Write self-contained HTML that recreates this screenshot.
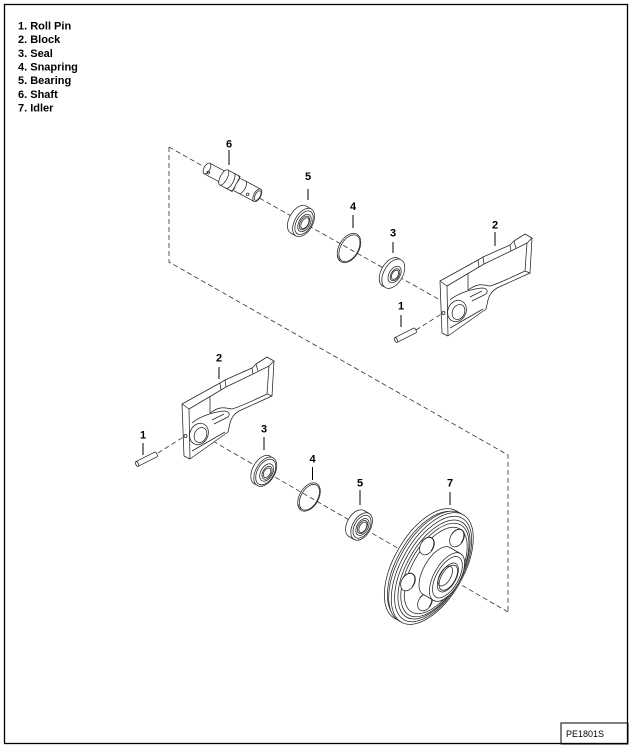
<!DOCTYPE html>
<html><head><meta charset="utf-8">
<style>
html,body{margin:0;padding:0;background:#fff;}
body{width:632px;height:748px;overflow:hidden;}
svg{display:block;}
text{font-family:"Liberation Sans",Arial,sans-serif;}
.l{fill:#fff;stroke:#222;stroke-width:.75;stroke-linejoin:round;}
.n{fill:none;stroke:#222;stroke-width:.75;stroke-linejoin:round;}
.d{fill:none;stroke:#333;stroke-width:.8;stroke-dasharray:5 3;}
.k{fill:none;stroke:#000;stroke-width:1;}
</style></head><body>
<svg width="632" height="748" viewBox="0 0 632 748" xmlns="http://www.w3.org/2000/svg">
<rect x="4.5" y="4.5" width="623" height="739" fill="#fff" stroke="#000" stroke-width="1.3"/>
<rect x="561" y="723" width="67" height="21" fill="none" stroke="#000" stroke-width="1"/>
<text x="566" y="737" font-size="9">PE1801S</text>

<g font-weight="bold" font-size="11" fill="#000">
<text x="18" y="29.3">1. Roll Pin</text>
<text x="18" y="43">2. Block</text>
<text x="18" y="56.8">3. Seal</text>
<text x="18" y="70.5">4. Snapring</text>
<text x="18" y="84.2">5. Bearing</text>
<text x="18" y="98">6. Shaft</text>
<text x="18" y="111.7">7. Idler</text>
</g>

<!-- dashed lines -->
<path class="d" d="M169,147 L169,262 L508,455 L508,612"/>
<path class="d" d="M169,147 L440,300"/>
<path class="d" d="M508,612 L199,433"/>
<path class="d" d="M416,330 L443,313"/>
<path class="d" d="M158,453 L185,436"/>

<defs>
<g id="blk">
<path class="l" d="M440,281 L478,260 L483,257 L510,245 L514,241 L525,234 L532,238 L530,273 L497,288 Q490,292 488,300 L486,309 L448,336 L442,333 Z"/>
<path class="n" d="M440,281 L447,286 L448,336"/>
<path class="n" d="M447,286 L479,267 L484,264 L511,251 L527,243 L532,238"/>
<path class="n" d="M527,243 L525,271 L530,273"/>
<path class="n" d="M478,260 L479,267 M483,257 L484,264 M510,245 L511,251 M514,241 L516,248"/>
<path class="n" d="M468,274 L468,290 C474,286 478,284 484,285 L490,286 C500,283 510,278 525,271"/>
<path class="n" d="M450,300 C458,293 472,289 482,288 C488,288 489,293 484,295 L472,301"/>
<path class="n" d="M470,297 L482,291"/>
<path class="n" d="M450,328 L483,309"/>
<ellipse class="n" cx="457" cy="311" rx="9" ry="11" transform="rotate(25 457 311)"/>
<ellipse class="n" cx="458.5" cy="312" rx="6" ry="7.8" transform="rotate(25 458.5 312)"/>
<circle class="n" cx="443.5" cy="313" r="1.5"/>
</g>
<g id="pin">
<path class="l" d="M0,-2.6 L21,-2.6 A1.3,2.6 0 0 1 21,2.6 L0,2.6"/>
<ellipse class="l" cx="0" cy="0" rx="1.3" ry="2.6"/>
</g>
</defs>

<!-- blocks -->
<use href="#blk"/>
<use href="#blk" transform="translate(-258,123)"/>

<!-- pins -->
<use href="#pin" transform="translate(396,340) rotate(-27)"/>
<use href="#pin" transform="translate(137,464) rotate(-27)"/>

<!-- shaft -->
<g transform="translate(207,168.5) rotate(28)">
<path class="l" d="M0,-6 L20,-6 L20,6 L0,6"/>
<ellipse class="l" cx="0" cy="0" rx="3" ry="6"/>
<circle class="n" cx="3" cy="3" r="1.3"/>
<path class="l" d="M19,-8.5 L33,-8.5 L33,8.5 L19,8.5"/>
<ellipse class="l" cx="19" cy="0" rx="3.5" ry="8.5"/>
<path class="n" d="M26,-8.5 A3.5,8.5 0 0 1 26,8.5"/>
<path class="n" d="M31,-8.3 A3.5,8.3 0 0 1 31,8.3" stroke-width="2.2"/>
<path class="l" d="M34,-7 L57,-7 L57,7 L34,7"/>
<path class="n" d="M40,-7 A3,7 0 0 1 40,7"/>
<ellipse class="l" cx="57" cy="0" rx="3.5" ry="7"/>
<ellipse class="n" cx="57.5" cy="0" rx="2.5" ry="5.3"/>
<circle class="n" cx="48" cy="3.8" r="1.3"/>
</g>

<!-- top bearing 5 -->
<g transform="translate(301,221) rotate(30)">
<ellipse class="l" cx="-3" cy="0" rx="9" ry="15.5"/>
<path fill="#fff" d="M-3,-15.5 L3,-15.5 L3,15.5 L-3,15.5Z"/>
<path class="n" d="M-3,-15.5 L3,-15.5 M-3,15.5 L3,15.5"/>
<ellipse class="l" cx="3" cy="0" rx="9" ry="15.5"/>
<ellipse class="n" cx="3.5" cy="0" rx="7.5" ry="13"/>
<ellipse class="n" cx="4" cy="0" rx="5.5" ry="9.5" stroke-width="1.3"/>
<ellipse class="n" cx="4" cy="0" rx="4.2" ry="7.5"/>
<ellipse class="n" cx="4.5" cy="0" rx="3.3" ry="6"/>
</g>

<!-- top snapring 4 -->
<g transform="translate(349,248) rotate(30)">
<ellipse class="n" cx="0" cy="0" rx="10" ry="16"/>
<ellipse class="n" cx="0.5" cy="0" rx="8.8" ry="14.6"/>
<path class="n" d="M-6,12 L-4,14.5 M-3,13.5 L-1.5,15.5"/>
</g>

<!-- top seal 3 -->
<g transform="translate(392,273) rotate(30)">
<ellipse class="l" cx="-1.5" cy="0" rx="9.5" ry="16"/>
<ellipse class="l" cx="1.5" cy="0" rx="9.5" ry="16"/>
<ellipse class="n" cx="3" cy="0" rx="5.5" ry="9" stroke-width="1.2"/>
<ellipse class="n" cx="3.5" cy="0" rx="4" ry="6.5"/>
<ellipse class="n" cx="3.5" cy="0" rx="3" ry="5"/>
</g>

<!-- bottom seal 3 -->
<g transform="translate(264,471) rotate(30)">
<ellipse class="l" cx="-2" cy="0" rx="9.5" ry="16" stroke-width="1.4"/>
<ellipse class="l" cx="1.5" cy="0" rx="9.5" ry="16" stroke-width="1.4"/>
<ellipse class="n" cx="2" cy="0" rx="8.3" ry="14" stroke-width="1.6"/>
<ellipse class="n" cx="3" cy="0" rx="5.8" ry="9.5" stroke-width="1.6"/>
<ellipse class="n" cx="3.5" cy="0" rx="4.3" ry="7"/>
<ellipse class="n" cx="3.5" cy="0" rx="3.2" ry="5.2"/>
</g>

<!-- bottom snapring 4 -->
<g transform="translate(309,497) rotate(30)">
<ellipse class="n" cx="0" cy="0" rx="9.5" ry="15.5"/>
<ellipse class="n" cx="0.5" cy="0" rx="8.3" ry="14.1"/>
<path class="n" d="M-6,11.5 L-4,14 M-3,13 L-1.5,15"/>
</g>

<!-- bottom bearing 5 -->
<g transform="translate(359,525) rotate(30)">
<ellipse class="l" cx="-3" cy="0" rx="9" ry="15"/>
<path fill="#fff" d="M-3,-15 L3,-15 L3,15 L-3,15Z"/>
<path class="n" d="M-3,-15 L3,-15 M-3,15 L3,15"/>
<ellipse class="l" cx="3" cy="0" rx="9" ry="15"/>
<ellipse class="n" cx="3.5" cy="0" rx="7.5" ry="12.5"/>
<ellipse class="n" cx="4" cy="0" rx="5.5" ry="9.2" stroke-width="1.3"/>
<ellipse class="n" cx="4" cy="0" rx="4.2" ry="7.2"/>
<ellipse class="n" cx="4.5" cy="0" rx="3.3" ry="5.8"/>
</g>

<!-- idler 7 -->
<g transform="translate(447,577) rotate(30)">
<ellipse class="l" cx="-25" cy="0" rx="31" ry="62"/>
<ellipse class="l" cx="-23" cy="0" rx="30" ry="60"/>
<ellipse class="l" cx="-20" cy="0" rx="31" ry="62"/>
<ellipse class="l" cx="-17" cy="0" rx="31" ry="62"/>
<ellipse class="n" cx="-16" cy="0" rx="29" ry="58.5"/>
<ellipse class="n" cx="-15" cy="0" rx="27" ry="55"/>
<ellipse class="n" cx="-14" cy="0" rx="25.5" ry="52"/>
<ellipse class="n" cx="-13" cy="0" rx="23.5" ry="48"/>
</g>
<!-- spoke holes -->
<g>
<ellipse class="l" cx="457" cy="538" rx="6.5" ry="9.5" transform="rotate(30 457 538)"/>
<path class="n" d="M452,534 A5,8 30 0 1 461,543"/>
<ellipse class="l" cx="427" cy="546" rx="6.5" ry="9.5" transform="rotate(30 427 546)"/>
<path class="n" d="M422,542 A5,8 30 0 1 431,551"/>
<ellipse class="l" cx="408" cy="582" rx="6.5" ry="9.5" transform="rotate(30 408 582)"/>
<path class="n" d="M403,578 A5,8 30 0 1 412,587"/>
<ellipse class="l" cx="425" cy="602" rx="6.5" ry="9.5" transform="rotate(30 425 602)"/>
<path class="n" d="M420,598 A5,8 30 0 1 429,607"/>
</g>
<g transform="translate(447,577) rotate(30)">
<ellipse class="l" cx="-12" cy="0" rx="13" ry="27"/>
<path fill="#fff" d="M-12,-27 L0,-27 L0,27 L-12,27Z"/>
<path class="n" d="M-12,-27 L0,-27 M-12,27 L0,27"/>
<ellipse class="l" cx="0" cy="0" rx="13" ry="27"/>
<ellipse class="n" cx="0.5" cy="0" rx="11" ry="23"/>
<ellipse class="l" cx="1" cy="0" rx="8" ry="16"/>
<ellipse class="n" cx="1.5" cy="0" rx="7" ry="14" stroke-width="1.4"/>
<ellipse class="n" cx="-2" cy="0" rx="5.5" ry="11"/>
</g>

<!-- labels -->
<g font-weight="bold" font-size="11" fill="#000" text-anchor="middle">
<text x="229" y="147.5">6</text>
<text x="308" y="180">5</text>
<text x="353" y="210">4</text>
<text x="393" y="236.5">3</text>
<text x="495" y="228.5">2</text>
<text x="401" y="309.3">1</text>
<text x="219" y="361.7">2</text>
<text x="143" y="438.3">1</text>
<text x="264" y="432.7">3</text>
<text x="312.5" y="462.3">4</text>
<text x="360" y="486.7">5</text>
<text x="450" y="486.7">7</text>
</g>
<path class="k" d="M229,150 L229,165 M308,189 L308,200 M353,215 L353,228 M393,242 L393,253 M495,232 L495,246 M401,315 L401,327 M219,367 L219,379 M143,443 L143,455 M264,437 L264,450 M312.5,467 L312.5,480 M360,490 L360,505 M450,492 L450,505"/>
</svg>
</body></html>
